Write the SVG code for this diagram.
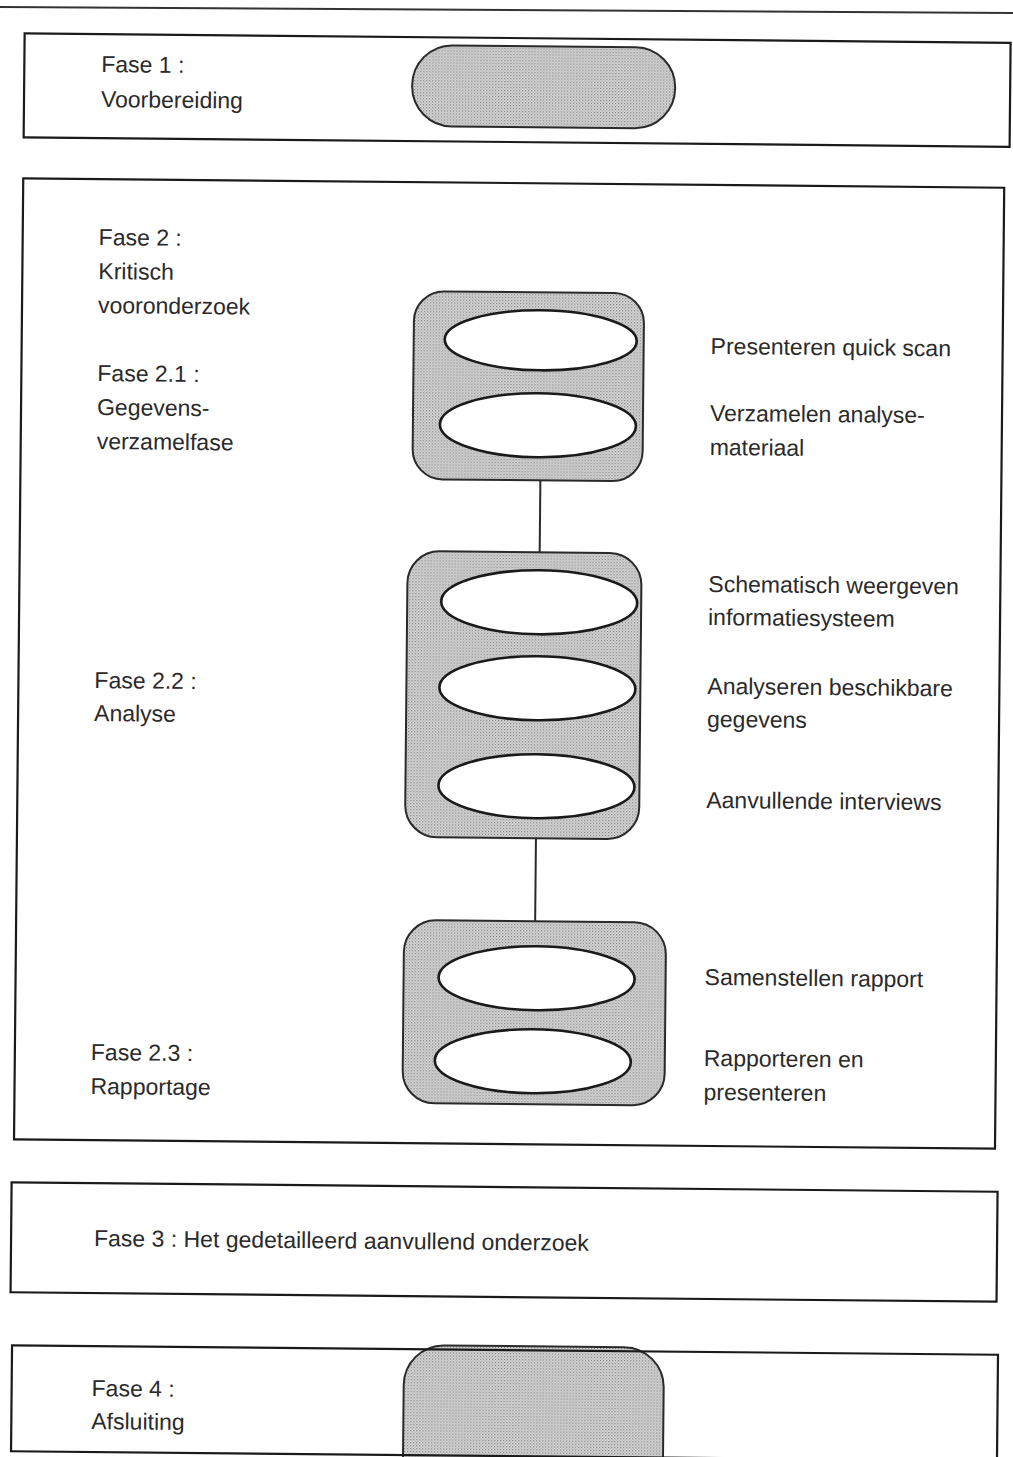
<svg xmlns="http://www.w3.org/2000/svg" width="1013" height="1457" viewBox="0 0 1013 1457">
<defs>
<pattern id="stip" width="3" height="3" patternUnits="userSpaceOnUse">
<rect width="3" height="3" fill="#dcdcdc"/>
<rect x="0" y="0" width="1.2" height="1.2" fill="#7a7a7a"/>
<rect x="1.5" y="1.5" width="1.2" height="1.2" fill="#9a9a9a"/>
</pattern>
</defs>
<style>
.box{fill:none;stroke:#1a1a1a;stroke-width:2.2}
.grp{fill:url(#stip);stroke:#2a2a2a;stroke-width:2}
.ell{fill:#fff;stroke:#1a1a1a;stroke-width:2.6}
.con{stroke:#2a2a2a;stroke-width:2;fill:none}
text{font-family:"Liberation Sans",Arial,sans-serif;font-size:23px;fill:#2a2a2a}
</style>
<rect width="1013" height="1457" fill="#fff"/>
<line x1="0" y1="7" x2="1013" y2="13" stroke="#333" stroke-width="2"/>
<g transform="rotate(0.55 506 728)">
<g id="fase1">
<rect class="box" x="18" y="38" width="986" height="104"/>
<rect class="grp" x="406" y="46" width="263" height="81" rx="40" ry="40"/>
<text x="95" y="76">Fase 1 :</text>
<text x="95" y="111">Voorbereiding</text>
</g>
<g id="fase2">
<rect class="box" x="18" y="183" width="981" height="961"/>
<text x="94" y="249">Fase 2 :</text>
<text x="94" y="283">Kritisch</text>
<text x="94" y="317">vooronderzoek</text>
</g>
<g id="fase2-1">
<rect class="grp" x="410" y="292" width="230" height="188" rx="30" ry="30"/>
<ellipse class="ell" cx="537" cy="340" rx="96" ry="30"/>
<ellipse class="ell" cx="535" cy="425" rx="98" ry="32"/>
<text x="94" y="385">Fase 2.1 :</text>
<text x="94" y="419">Gegevens-</text>
<text x="94" y="453">verzamelfase</text>
<text x="707" y="352">Presenteren quick scan</text>
<text x="707" y="419">Verzamelen analyse-</text>
<text x="707" y="453">materiaal</text>
</g>
<g id="fase2-2">
<rect class="grp" x="406" y="552" width="234" height="286" rx="32" ry="32"/>
<ellipse class="ell" cx="538" cy="602" rx="98" ry="32"/>
<ellipse class="ell" cx="537" cy="688" rx="98" ry="32"/>
<ellipse class="ell" cx="537" cy="786" rx="98" ry="32"/>
<text x="94" y="692">Fase 2.2 :</text>
<text x="94" y="725">Analyse</text>
<text x="707" y="590">Schematisch weergeven</text>
<text x="707" y="623">informatiesysteem</text>
<text x="707" y="692">Analyseren beschikbare</text>
<text x="707" y="725">gegevens</text>
<text x="707" y="806">Aanvullende interviews</text>
</g>
<g id="fase2-3">
<rect class="grp" x="406" y="921" width="262" height="183" rx="32" ry="32"/>
<ellipse class="ell" cx="539" cy="978" rx="98" ry="32"/>
<ellipse class="ell" cx="536" cy="1061" rx="98" ry="32"/>
<text x="94" y="1064">Fase 2.3 :</text>
<text x="94" y="1098">Rapportage</text>
<text x="707" y="983">Samenstellen rapport</text>
<text x="707" y="1064">Rapporteren en</text>
<text x="707" y="1098">presenteren</text>
</g>
<g id="connectors">
<line class="con" x1="538" y1="480" x2="538" y2="552"/>
<line class="con" x1="537" y1="838" x2="537" y2="921"/>
</g>
<g id="fase3">
<rect class="box" x="16" y="1187" width="986" height="110"/>
<text x="99" y="1250">Fase 3 : Het gedetailleerd aanvullend onderzoek</text>
</g>
<g id="fase4">
<rect class="grp" x="410" y="1346" width="260" height="150" rx="40" ry="40"/>
<rect class="box" x="18" y="1350" width="986" height="106"/>
<text x="98" y="1400">Fase 4 :</text>
<text x="98" y="1433">Afsluiting</text>
</g>
</g>
</svg>
